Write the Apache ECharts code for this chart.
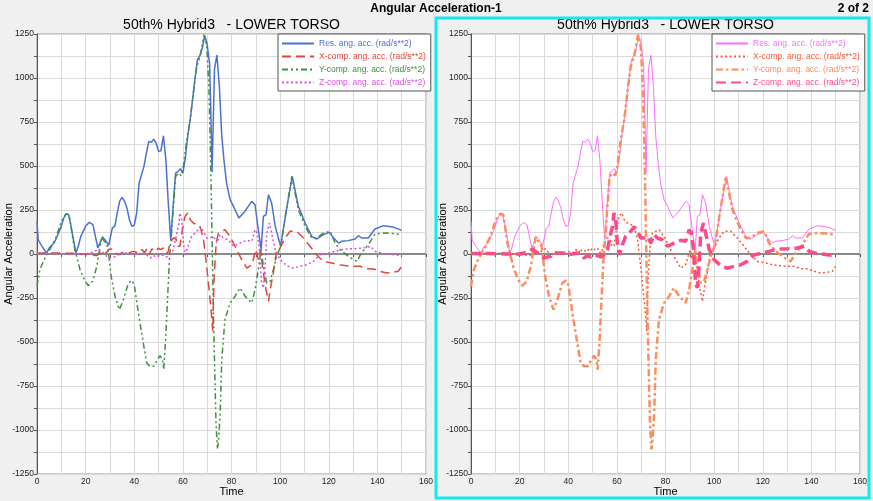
<!DOCTYPE html>
<html>
<head>
<meta charset="utf-8">
<script src="https://cdn.jsdelivr.net/npm/echarts@6/dist/echarts.min.js"></script>
<style>
html,body{margin:0;padding:0;background:#f0f0f0;}
#c{width:873px;height:501px;}
</style>
</head>
<body>
<div id="c"></div>
<script>
// ---- data (time in ms, values in rad/s**2) ----
const resT = [0,0.5,2,4,5,7,8,10,11,12,13,14,15,16,17,18,20,21.5,23,25,27,28,29.5,31,32,33,34,35,36,37,38,39,40,41,42,44,45,46,47,48,49,50,51,52,53,54,55,56,57,58,59,60,61,62,63,64,65,66,67,68,69,70,71,71.5,72,72.4,73,74,75,76,77,78,79.4,80.8,83,85.5,88.3,89.7,91,92.2,93.1,94.2,95.2,96.5,98,100.2,102.7,105,107.5,110.3,113,115,117.8,120.3,122,124,125.3,128,130.8,132.2,133.5,136.3,139,142.5,146.6,150];
const resV = [186,81,44,5,34,62,91,157,205,227,223,157,81,6,44,100,157,180,167,35,97,80,50,148,157,233,300,322,300,261,195,157,163,233,403,498,574,640,634,653,631,583,587,672,536,290,80,271,460,470,485,460,545,669,763,877,1000,1104,1127,1170,1240,1190,1080,800,464,464,1050,1130,953,668,520,400,310,271,205,242,299,280,138,25,214,223,337,290,157,44,261,441,271,176,100,85,110,123,91,62,72,76,85,104,91,91,142,161,153,134];

const xT = [0,5,10,15,16,20,24.6,26,27.3,28.4,29.4,30,30.7,31.4,32.1,33.5,35.5,37.6,39.6,41.7,43.1,44.4,45.1,46.2,47.2,48.1,49,49.9,50.9,52,52.9,53.8,54.7,56.1,57.2,57.9,58.8,59.8,60.9,62,63,64.3,65.7,67.1,68.5,69.8,70.9,71.6,72.3,72.8,73.7,74.6,76,77.3,79.4,82.1,84.2,86.3,88.3,90.1,91,92,92.9,94.2,95.2,95.9,97.2,98.6,100,102,104.1,106.8,109.6,112.3,115,117.8,121.2,124,126.7,130.1,132.9,135.6,138.4,141.1,143.8,146.6,148.6,150];
const xV = [5,5,5,4,0,-2,-9,6,15,6,25,15,28,38,6,-4,9,6,15,6,25,9,28,-4,28,25,15,34,25,34,9,6,62,91,85,44,44,138,214,233,195,176,167,157,81,-70,-222,-316,-439,-146,62,119,129,138,100,25,-32,-80,-61,25,-32,25,-89,-203,-269,-203,-108,25,34,91,129,129,91,44,-4,-42,-51,-61,-66,-70,-70,-83,-85,-98,-108,-104,-98,-70];

const yT = [0,1.2,2.6,4,6,8,10,12,13.3,15,16.3,17.7,19.8,21.1,22.9,24.6,25.7,26.6,27.7,28.7,29.4,30.5,32.1,33.9,35.5,37.6,39,40,41.7,43.5,45.1,46.5,48.1,49.5,50.6,51.6,52.1,52.9,53.8,54.6,55.2,56.1,57,58.2,59.3,60.2,61.6,63,64.3,65.7,67.1,68.7,69.8,70.7,71.5,72,72.5,73,73.6,74.2,74.7,75.3,76,77.3,79.4,81.5,83.5,85.6,88.3,89.7,91,92.2,93.1,94.5,95.9,97.2,98.6,100.2,102.7,104.8,107.5,110.3,113,115,117.8,120.6,122.6,124.6,128,131.5,133.5,136.3,139,142.5,146.6,150];
const yV = [-184,-89,-42,-4,44,100,186,229,223,62,-13,-89,-155,-180,-155,-70,25,97,72,62,6,-127,-240,-316,-260,-165,-150,-174,-335,-487,-619,-638,-638,-600,-578,-600,-657,-487,-222,0,90,271,440,460,445,498,650,763,915,1066,1123,1246,1180,953,479,100,-300,-600,-950,-1110,-1050,-922,-600,-373,-278,-240,-193,-240,-278,-203,-89,25,-70,-165,-155,-89,-13,44,261,441,252,157,91,91,119,129,62,25,-13,-42,6,53,114,119,116,110];

const zT = [0,5,10,15,20,21.8,23.9,25.2,26,27.3,28.7,30,31.4,32.8,34.2,35.5,37.6,39.6,41.7,43.8,45.1,46.5,47.9,49.2,50.6,52,53.4,54.7,56.1,57.5,58.2,58.8,59.5,60.2,61,62.3,63.6,65.7,67.1,68.5,69.8,71.2,72.6,74,75.3,76.7,78.7,80.8,83.5,86.3,88.3,89.7,90.6,91.5,92.4,93.1,93.8,94.5,95.6,96.5,98,100,102.7,105.4,108.2,110.9,113.6,116.4,119.2,122.6,126.1,130.1,134.3,137.1,139.1,142.5,146.6,150];
const zV = [3,3,2,0,0,6,15,28,25,6,-13,-23,-17,-13,9,6,6,-4,0,6,-4,-23,-9,-17,-4,-9,-17,-4,25,119,157,233,195,62,-4,53,100,129,155,129,91,91,100,62,110,91,81,44,62,78,72,138,119,25,-165,-193,-70,119,176,119,25,-32,-66,-80,-70,-61,-42,-4,2,15,28,30,34,44,15,2,-4,-9];

const legendNames = ['Res. ang. acc. (rad/s**2)','X-comp. ang. acc. (rad/s**2)','Y-comp. ang. acc. (rad/s**2)','Z-comp. ang. acc. (rad/s**2)'];
const mainTitle = 'Angular Acceleration-1';
const pageLabel = '2 of 2';
const plotTitle = '50th% Hybrid3   - LOWER TORSO';
const xName = 'Time';
const yName = 'Angular Acceleration';

// ---- build ----
const zip = (t, v) => t.map((x, i) => [x, v[i]]);
const FONT = 'Liberation Sans, Arial, sans-serif';

const leftStyles = [
  {color:'#4a70d4', width:1.5, type:'solid'},
  {color:'#e0463a', width:1.5, type:[9,5]},
  {color:'#3f8f3f', width:1.5, type:[6,3,2,3,2,3]},
  {color:'#d94fd9', width:1.5, type:[2,2.5]}
];
const rightStyles = [
  {color:'#ff6cff', width:1, type:'solid'},
  {color:'#ff5533', width:1.5, type:[2,2.5]},
  {color:'#ff8c5c', width:2.5, type:[7,3,2.5,3]},
  {color:'#ff4a8a', width:3.5, type:[10,5]}
];
const datasets = [zip(resT,resV), zip(xT,xV), zip(yT,yV), zip(zT,zV)];

function mkAxes(idx){
  return {
    x: {
      type:'value', gridIndex: idx, min:0, max:160, interval:10,
      name: xName, nameLocation:'middle', nameGap: 12, nameMoveOverlap:false,
      nameTextStyle:{fontSize:11, color:'#000', fontFamily:FONT},
      axisLine:{show:true, lineStyle:{color:'#555', width:1}},
      axisTick:{show:true, length:3, lineStyle:{color:'#555'}},
      axisLabel:{fontSize:8.5, color:'#222', fontFamily:FONT, margin:3,
        formatter: v => (v % 20 === 0 ? String(v) : '')},
      splitLine:{show:true, lineStyle:{color:'#dadada', width:1}}
    },
    y: {
      type:'value', gridIndex: idx, min:-1250, max:1250, interval:125,
      name: yName, nameLocation:'middle', nameGap: 23, nameRotate: 90, nameMoveOverlap:false,
      nameTextStyle:{fontSize:11, color:'#000', fontFamily:FONT},
      axisLine:{show:true, lineStyle:{color:'#555', width:1}},
      axisTick:{show:true, length:3, lineStyle:{color:'#555'}},
      axisLabel:{fontSize:8.5, color:'#222', fontFamily:FONT, margin:3,
        formatter: v => (v % 250 === 0 ? String(v) : '')},
      splitLine:{show:true, lineStyle:{color:'#dadada', width:1}}
    }
  };
}
const ax0 = mkAxes(0), ax1 = mkAxes(1);

const series = [];
const nameMap = {};
[leftStyles, rightStyles].forEach((styles, g) => {
  styles.forEach((st, i) => {
    const nm = 's' + g + '_' + i;
    nameMap[nm] = legendNames[i];
    const s = {
      name: nm, type:'line', xAxisIndex:g, yAxisIndex:g,
      data: datasets[i], showSymbol:false, symbol:'none', smooth:false,
      lineStyle:{color:st.color, width:st.width, type:st.type},
      itemStyle:{color:st.color},
      animation:false, z: 3
    };
    if (i === 0) {
      s.markLine = {silent:true, symbol:'none', animation:false,
        label:{show:false}, lineStyle:{color:'#8a8a8a', width:2, type:'solid'},
        data:[{yAxis:0}], z:2};
    }
    series.push(s);
  });
});

function mkLegend(g, left, styles){
  return {
    orient:'vertical', left:left, top:34,
    itemWidth:32, itemHeight:8, itemGap:4,
    padding:[5,5,4,3],
    backgroundColor:'#fff', borderColor:'#555', borderWidth:1,
    itemStyle:{color:'rgba(0,0,0,0)', borderWidth:0},
    selectedMode:false,
    formatter: n => nameMap[n],
    data: styles.map((st,i) => ({name:'s'+g+'_'+i, textStyle:{color:st.color, fontSize:8.5, fontFamily:FONT}}))
  };
}

const chart = echarts.init(document.getElementById('c'));
chart.setOption({
  backgroundColor:'#f0f0f0',
  animation:false,
  grid:[
    {left:37, top:34, width:389, height:440, show:true, backgroundColor:'#fff', borderColor:'#999', borderWidth:1, containLabel:false, outerBoundsMode:'none'},
    {left:471, top:34, width:389, height:440, show:true, backgroundColor:'#fff', borderColor:'#999', borderWidth:1, containLabel:false, outerBoundsMode:'none'}
  ],
  xAxis:[ax0.x, ax1.x],
  yAxis:[ax0.y, ax1.y],
  legend:[mkLegend(0, 278, leftStyles), mkLegend(1, 712, rightStyles)],
  series: series,
  graphic:[
    {type:'rect', shape:{x:436, y:18, width:433, height:480}, style:{fill:'none', stroke:'#14e8f0', lineWidth:3}, z:100, silent:true},
    {type:'text', x:436, y:9, style:{text:mainTitle, textAlign:'center', textVerticalAlign:'middle', font:'bold 12px '+FONT, fill:'#000'}},
    {type:'text', x:869, y:9, style:{text:pageLabel, textAlign:'right', textVerticalAlign:'middle', font:'bold 12px '+FONT, fill:'#000'}},
    {type:'text', x:231.5, y:25, style:{text:plotTitle, textAlign:'center', textVerticalAlign:'middle', font:'14px '+FONT, fill:'#000'}},
    {type:'text', x:665.5, y:25, style:{text:plotTitle, textAlign:'center', textVerticalAlign:'middle', font:'14px '+FONT, fill:'#000'}}
  ]
});
</script>
</body>
</html>
